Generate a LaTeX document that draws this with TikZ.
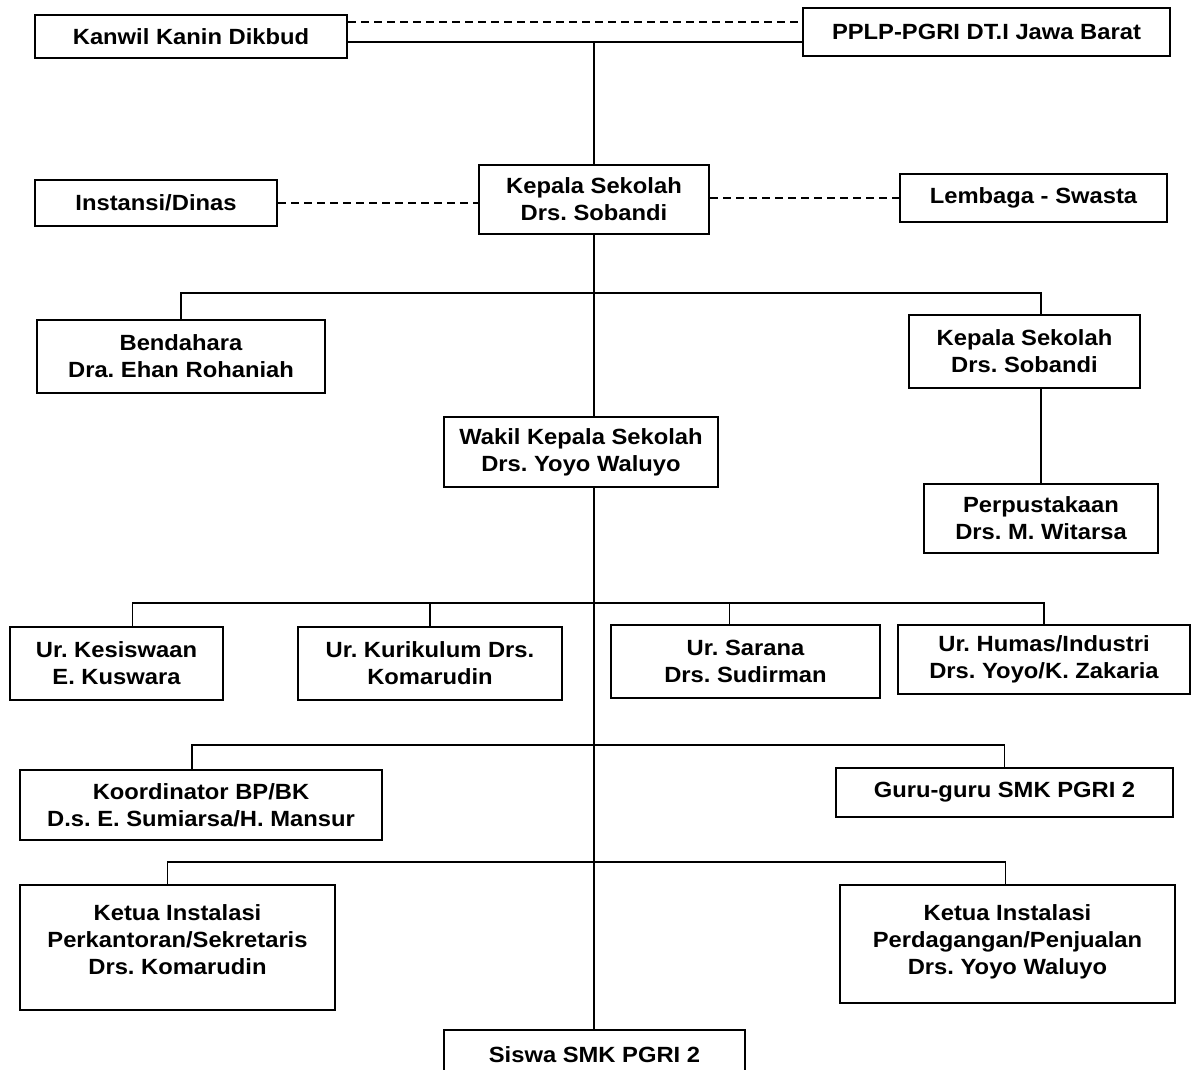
\documentclass[tikz,border=0pt]{standalone}
\usepackage{fontspec}
\setmainfont{Liberation Sans}[FakeStretch=1.08]
\usepackage{tikz}
\usetikzlibrary{positioning,calc}
\frenchspacing

\begin{document}
\begin{tikzpicture}[x=0.5pt, y=-0.5pt,
        box/.style={draw, line width=1.1pt, align=center, inner sep=2pt,
                    font=\bfseries\fontsize{11}{13.5}\selectfont},
        ln/.style={line width=0.9pt},
        dl/.style={line width=0.9pt, dash pattern=on 4pt off 2.5pt}
      ]
        \useasboundingbox (0,0) rectangle (1191,1070);
        \clip (0,0) rectangle (1191,1070);
        \node[box, minimum width=156pt, minimum height=21.5pt] (kanwil) at (191,36.5) {Kanwil Kanin Dikbud};
        \node[box, minimum width=183.5pt, minimum height=24pt] (pplp) at (986.5,32) {PPLP-PGRI DT.I Jawa Barat};
        \node[box, minimum width=115pt, minimum height=34.5pt] (kepala) at (594,199.5) {Kepala Sekolah\\Drs. Sobandi};
        \node[box, minimum width=121pt, minimum height=23pt] (instansi) at (156,203) {Instansi/Dinas};
        \node[box, minimum width=133.5pt, minimum height=24pt] (lembaga) at (1033.5,198) {Lembaga - Swasta};
        \node[box, minimum width=144pt, minimum height=36.5pt] (bendahara) at (181,356.5) {Bendahara\\Dra. Ehan Rohaniah};
        \node[box, minimum width=115.5pt, minimum height=36.5pt] (kepala2) at (1024.5,351.5) {Kepala Sekolah\\Drs. Sobandi};
        \node[box, minimum width=117pt, minimum height=34.5pt] (perpus) at (1041,518.5) {Perpustakaan\\Drs. M. Witarsa};
        \node[box, minimum width=137pt, minimum height=35pt] (wakil) at (581,452) {Wakil Kepala Sekolah\\Drs. Yoyo Waluyo};
        \node[box, minimum width=106.5pt, minimum height=36.5pt] (kesiswaan) at (116.5,663.5) {Ur. Kesiswaan\\E. Kuswara};
        \node[box, minimum width=132pt, minimum height=36.5pt] (kurikulum) at (430,663.5) {Ur. Kurikulum Drs.\\Komarudin};
        \node[box, minimum width=134.5pt, minimum height=36.5pt] (sarana) at (745.5,661.5) {Ur. Sarana\\Drs. Sudirman};
        \node[box, minimum width=146pt, minimum height=34.5pt] (humas) at (1044,659.5) {Ur. Humas/Industri\\Drs. Yoyo/K. Zakaria};
        \node[box, minimum width=181pt, minimum height=35pt] (koord) at (201,805) {Koordinator BP/BK\\D.s. E. Sumiarsa/H. Mansur};
        \node[box, minimum width=168.5pt, minimum height=24.5pt] (guru) at (1004.5,792.5) {Guru-guru SMK PGRI 2};
        \node[box, minimum width=157.5pt, minimum height=62.5pt, text depth=8pt] (ketua1) at (177.5,947.5) {Ketua Instalasi\\Perkantoran/Sekretaris\\Drs. Komarudin};
        \node[box, minimum width=167.5pt, minimum height=59pt, text depth=4pt] (ketua2) at (1007.5,944) {Ketua Instalasi\\Perdagangan/Penjualan\\Drs. Yoyo Waluyo};
        \node[box, minimum width=150.5pt, minimum height=30pt, text height=8pt, text depth=6pt] (siswa) at (594.5,1060) {Siswa SMK PGRI 2};

        \coordinate (dtop) at (594,22);
        \coordinate (top) at (594,42);
        \coordinate (b1) at (594,293);
        \coordinate (b2) at (594,603);
        \coordinate (b3) at (594,745);
        \coordinate (b4) at (594,862);

        \draw[dl] (kanwil.east |- dtop) -- (pplp.west |- dtop);
        \draw[ln] (kanwil.east |- top) -- (pplp.west |- top);
        \draw[ln] (top) -- (kepala.north);
        \draw[dl] (instansi.east) -- (kepala.west |- instansi.east);
        \draw[dl] (kepala.east |- lembaga.west) -- (lembaga.west);
        \draw[ln] (kepala.south) -- (wakil.north -| kepala.south);
        \draw[ln] (wakil.south -| kepala.south) -- (siswa.north -| kepala.south);

        \draw[ln] (bendahara.north) |- (b1) -| (perpus.north |- kepala2.north);
        \draw[ln] (kepala2.south -| perpus.north) -- (perpus.north);

        \draw[ln] ([xshift=8pt]kesiswaan.north) |- (b2) -| (humas.north);
        \draw[ln] (kurikulum.north) -- (kurikulum.north |- b2);
        \draw[ln] ([xshift=-8pt]sarana.north) -- ([xshift=-8pt]sarana.north |- b2);

        \draw[ln] ([xshift=-4.5pt]koord.north) |- (b3) -| (guru.north);
        \draw[ln] ([xshift=-5pt]ketua1.north) |- (b4) -| ([xshift=-1pt]ketua2.north);
      \end{tikzpicture}
\end{document}
